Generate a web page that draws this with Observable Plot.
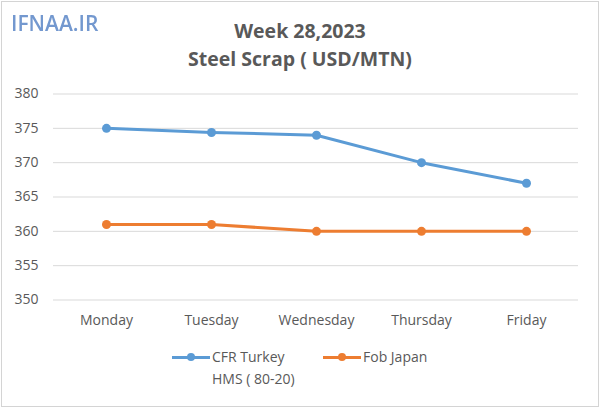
<!DOCTYPE html>
<html>
<head>
<meta charset="utf-8">
<script src="https://cdn.jsdelivr.net/npm/d3@7"></script>
<script src="https://cdn.jsdelivr.net/npm/@observablehq/plot@0.6"></script>
<style>
  html, body { margin: 0; padding: 0; background: #fff; }
  #wrap { position: relative; width: 600px; height: 415px; background: #fff; font-family: "Open Sans", sans-serif; color: #595959; overflow: hidden; }
  #frame { position: absolute; left: 1px; top: 1px; width: 596px; height: 404px; border: 1px solid #d4d4d4; }
  #logo { position: absolute; left: 11px; top: 9px; font-family: "Open Sans", sans-serif; font-weight: 600; font-size: 21px; color: #7398cf; filter: blur(0.5px); }
  .title { position: absolute; left: 0; width: 600px; text-align: center; font-weight: bold; font-size: 19.5px; line-height: 26px; color: #595959; }
  #chart { position: absolute; left: 0; top: 80px; }
  #legend { position: absolute; top: 346px; left: 0; width: 600px; font-size: 14px; color: #595959; }
  .item { position: absolute; display: flex; align-items: flex-start; line-height: 22px; }
  .sw { position: relative; width: 38px; height: 22px; margin-right: 2px; }
  .sw .ln { position: absolute; left: 0; right: 0; top: 9.5px; height: 3px; }
  .sw .dt { position: absolute; left: 15px; top: 7px; width: 8px; height: 8px; border-radius: 50%; }
</style>
</head>
<body>
<div id="wrap">
  <div id="frame"></div>
  <div id="logo">IFNAA.IR</div>
  <div class="title" style="top:18px">Week 28,2023</div>
  <div class="title" style="top:46px">Steel Scrap ( USD/MTN)</div>
  <div id="chart"></div>
  <div id="legend"></div>
</div>
<script>
const days = ["Monday", "Tuesday", "Wednesday", "Thursday", "Friday"];
const cfrTurkey = [375, 374.4, 374, 370, 367];
const fobJapan = [361, 361, 360, 360, 360];
const seriesNames = ["CFR Turkey HMS ( 80-20)", "Fob Japan"];
const seriesColors = ["#5b9bd5", "#ed7d31"];
const yTicks = [350, 355, 360, 365, 370, 375, 380];

const data = [
  ...days.map((d, i) => ({day: d, value: cfrTurkey[i], series: seriesNames[0]})),
  ...days.map((d, i) => ({day: d, value: fobJapan[i], series: seriesNames[1]}))
];

const chart = Plot.plot({
  width: 600,
  height: 260,
  marginTop: 13.5,
  marginBottom: 40.5,
  marginLeft: 53,
  marginRight: 22,
  style: {fontFamily: "Open Sans, sans-serif", fontSize: "14px", color: "#595959", background: "transparent", overflow: "visible"},
  x: {type: "point", domain: days, padding: 0.5, label: null},
  y: {domain: [350, 380], ticks: yTicks, label: null},
  color: {domain: seriesNames, range: seriesColors},
  marks: [
    Plot.ruleY(yTicks, {stroke: "#d9d9d9", strokeWidth: 1}),
    Plot.axisY({ticks: yTicks, tickSize: 0, tickPadding: 15, label: null, fill: "#595959", fontSize: 14}),
    Plot.axisX({tickSize: 0, tickPadding: 15, label: null, fill: "#595959", fontSize: 14}),
    Plot.line(data, {x: "day", y: "value", z: "series", stroke: "series", strokeWidth: 3, curve: "linear"}),
    Plot.dot(data, {x: "day", y: "value", fill: "series", r: 4.5})
  ]
});
document.getElementById("chart").appendChild(chart);

const legend = document.getElementById("legend");
const legendItems = [
  {lines: ["CFR Turkey", "HMS ( 80-20)"], left: 172},
  {lines: ["Fob Japan"], left: 323}
];
legendItems.forEach((it, i) => {
  const el = document.createElement("div");
  el.className = "item";
  el.style.left = it.left + "px";
  el.innerHTML = `<div class="sw"><div class="ln" style="background:${seriesColors[i]}"></div><div class="dt" style="background:${seriesColors[i]}"></div></div><div>${it.lines.join("<br>")}</div>`;
  legend.appendChild(el);
});
</script>
</body>
</html>
